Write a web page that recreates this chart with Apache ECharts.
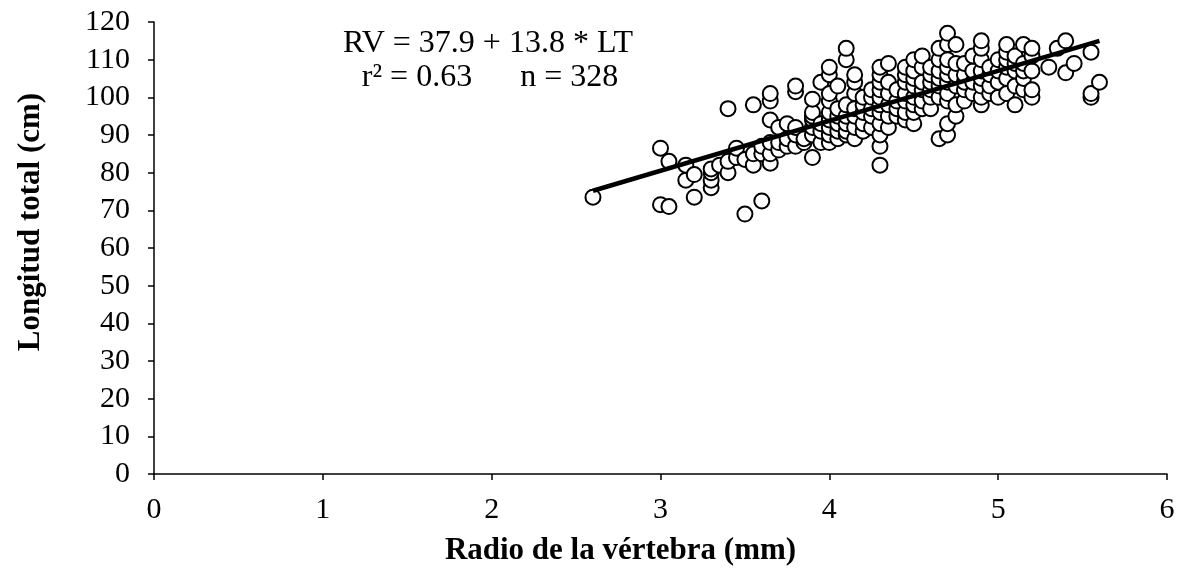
<!DOCTYPE html>
<html>
<head>
<meta charset="utf-8">
<script src="https://cdn.jsdelivr.net/npm/echarts@6/dist/echarts.min.js"></script>
<style>
html,body{margin:0;padding:0;background:#fff;}
#c{width:1184px;height:571px;}
</style>
</head>
<body>
<div id="c"></div>
<script>
// Data: [radio (mm), longitud total (cm)]
const pointsLeft = [
  [2.6,73.5],[3.0,86.5],[3.0,71.5],[3.05,71],[3.05,83],
  [3.15,78],[3.15,82],[3.2,79.5],[3.2,73.5],
  [3.3,76],[3.3,78],[3.3,80],[3.3,81],[3.35,82],[3.4,80],[3.4,83],[3.4,97],
  [3.45,84],[3.45,86.5],[3.5,69],[3.5,83.5],[3.55,82],[3.55,85],[3.55,98],
  [3.6,72.5],[3.6,85],[3.6,87],
  [3.65,82.5],[3.65,85],[3.65,88],[3.65,94],[3.65,99],[3.65,101],
  [3.7,86],[3.7,88],[3.7,92],[3.75,87],[3.75,89],[3.75,93],
  [3.8,87],[3.8,90],[3.8,92],[3.8,101.5],[3.8,103],[3.85,88],[3.85,89],
  [3.9,84],[3.9,90],[3.9,92],[3.9,94],[3.9,95],[3.9,96],[3.9,99.5],
  [3.95,88],[3.95,91],[3.95,93],[3.95,104]
];
const pointsMid = [
  [4.0,88],[4.0,90],[4.0,92],[4.0,94],[4.0,96],[4.0,99],[4.0,101],[4.0,106],[4.0,108],
  [4.05,89],[4.05,91],[4.05,93],[4.05,95],[4.05,97],[4.05,103],
  [4.1,90],[4.1,91],[4.1,93],[4.1,95],[4.1,98],[4.1,110],[4.1,113],
  [4.15,89],[4.15,92],[4.15,95],[4.15,97],[4.15,101],[4.15,104],[4.15,106],
  [4.2,91],[4.2,93],[4.2,96],[4.2,98],[4.2,100],
  [4.25,92],[4.25,95],[4.25,97],[4.25,100],[4.25,102],
  [4.3,82],[4.3,87],[4.3,90],[4.3,93],[4.3,96],[4.3,98],[4.3,100],[4.3,102],[4.3,104],[4.3,106],[4.3,108],
  [4.35,92],[4.35,95],[4.35,98],[4.35,101],[4.35,104],[4.35,109],
  [4.4,95],[4.4,97],[4.4,99],[4.4,102],
  [4.45,94],[4.45,96],[4.45,99],[4.45,101],[4.45,104],[4.45,106],[4.45,108],
  [4.5,93],[4.5,96],[4.5,98],[4.5,100],[4.5,103],[4.5,105],[4.5,107],[4.5,110],
  [4.55,97],[4.55,99],[4.55,102],[4.55,104],[4.55,108],[4.55,111],
  [4.6,97],[4.6,100],[4.6,102],[4.6,104],[4.6,106],[4.6,108],
  [4.65,89],[4.65,100],[4.65,103],[4.65,105],[4.65,107],[4.65,110],[4.65,113],
  [4.7,90],[4.7,93],[4.7,99],[4.7,101],[4.7,104],[4.7,106],[4.7,108],[4.7,110],[4.7,114],[4.7,117],
  [4.75,95],[4.75,98],[4.75,103],[4.75,106],[4.75,109],[4.75,114],
  [4.8,99],[4.8,102],[4.8,104],[4.8,106],[4.8,109],
  [4.85,101],[4.85,104],[4.85,107],[4.85,111]
];
const pointsRight = [
  [4.9,98],[4.9,100],[4.9,103],[4.9,105],[4.9,107],[4.9,110],[4.9,113],[4.9,115],
  [4.95,101],[4.95,103],[4.95,106],[4.95,108],
  [5.0,100],[5.0,104],[5.0,107],[5.0,110],
  [5.05,101],[5.05,105],[5.05,108],[5.05,110],[5.05,112],[5.05,114],
  [5.1,98],[5.1,103],[5.1,107],[5.1,109],[5.1,111],
  [5.15,102],[5.15,105],[5.15,107],[5.15,109],[5.15,114],
  [5.2,100],[5.2,102],[5.2,107],[5.2,111],[5.2,113],
  [5.3,108],[5.35,113],[5.4,106.5],[5.4,115],[5.45,109],
  [5.55,100],[5.55,101],[5.55,112],[5.6,104]
];
const fitLine = [[2.6,75.2],[5.6,115.0]];
const xTicks = [0,1,2,3,4,5,6];
const yTicks = [0,10,20,30,40,50,60,70,80,90,100,110,120];
const eqLine1 = 'RV = 37.9 + 13.8 * LT';
const eqLine2 = 'r² = 0.63      n = 328';

const FONT = 'Liberation Serif';
const chart = echarts.init(document.getElementById('c'), null, {renderer:'canvas'});
const scatterStyle = {
  type:'scatter', symbol:'circle', symbolSize:15,
  itemStyle:{color:'#fff', borderColor:'#000', borderWidth:2, opacity:1},
  z:2, silent:true
};
chart.setOption({
  animation:false,
  backgroundColor:'#fff',
  grid:{left:154, right:17, top:22, bottom:97, containLabel:false},
  xAxis:{
    type:'value', min:xTicks[0], max:xTicks[xTicks.length-1], interval:1,
    name:'Radio de la vértebra (mm)', nameLocation:'middle', nameGap:61,
    nameTextStyle:{fontFamily:FONT, fontSize:31, fontWeight:'bold', color:'#000', padding:[0,80,0,0]},
    axisLine:{lineStyle:{color:'#000', width:1.5}},
    axisTick:{show:true, inside:false, length:6, lineStyle:{color:'#000', width:1.5}},
    axisLabel:{fontFamily:FONT, fontSize:30, color:'#000', margin:21},
    splitLine:{show:false}
  },
  yAxis:{
    type:'value', min:yTicks[0], max:yTicks[yTicks.length-1], interval:10,
    name:'Longitud total (cm)', nameLocation:'middle', nameGap:108,
    nameTextStyle:{fontFamily:FONT, fontSize:31, fontWeight:'bold', color:'#000', padding:[0,0,0,52]},
    axisLine:{show:true, lineStyle:{color:'#000', width:1.5}},
    axisTick:{show:true, inside:false, length:6, lineStyle:{color:'#000', width:1.5}},
    axisLabel:{fontFamily:FONT, fontSize:30, color:'#000', margin:24},
    splitLine:{show:false}
  },
  series:[
    Object.assign({data:pointsLeft}, scatterStyle),
    Object.assign({data:pointsMid}, scatterStyle),
    Object.assign({data:pointsRight}, scatterStyle),
    {type:'line', data:fitLine, symbol:'none', z:3, silent:true,
     lineStyle:{color:'#000', width:4.5}}
  ],
  graphic:[
    {type:'text', z:10,
     style:{text:eqLine1, x:488, y:44, fontFamily:FONT, fontSize:32, fill:'#000', align:'center', verticalAlign:'middle'}},
    {type:'text', z:10,
     style:{text:eqLine2, x:490, y:78, fontFamily:FONT, fontSize:32, fill:'#000', align:'center', verticalAlign:'middle'}}
  ]
});
</script>
</body>
</html>
